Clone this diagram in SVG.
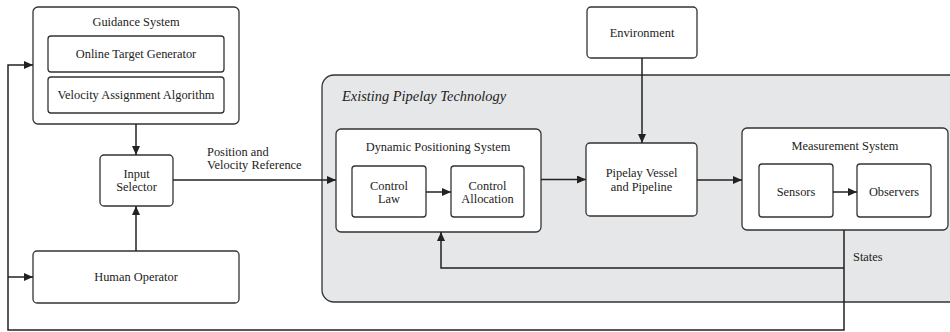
<svg xmlns="http://www.w3.org/2000/svg" width="950" height="332" viewBox="0 0 950 332">
  <style>
    .box { fill: #ffffff; stroke: #333333; stroke-width: 1.3; }
    .region { fill: #e6e7e9; stroke: #333333; stroke-width: 1.3; }
    text { font-family: "Liberation Serif", Tinos, "Times New Roman", "DejaVu Serif", serif; font-size: 12.4px; fill: #222222; }
    .lbl { text-anchor: middle; }
    .title { font-size: 14.4px; font-style: italic; }
    .wire { fill: none; stroke: #222222; stroke-width: 1.5; }
  </style>
  <defs>
    <marker id="arrow" markerUnits="userSpaceOnUse" markerWidth="10" markerHeight="8" refX="9" refY="4" orient="auto">
      <path d="M0,0 L9,4 L0,8 Z" fill="#222222"/>
    </marker>
  </defs>

  <rect width="950" height="332" fill="#ffffff"/>

  <!-- Pipelay technology region (extends past right edge) -->
  <g id="existing-pipelay">
    <rect class="region" x="322" y="75" width="640" height="227" rx="12"/>
    <text class="title" x="342" y="101">Existing Pipelay Technology</text>
  </g>

  <g id="guidance-system">
    <rect class="box" x="33" y="7" width="206" height="117" rx="5"/>
    <text class="lbl" x="136" y="26">Guidance System</text>
    <g id="online-target-generator">
      <rect class="box" x="48" y="36" width="176" height="36" rx="3"/>
      <text class="lbl" x="136" y="58">Online Target Generator</text>
    </g>
    <g id="velocity-assignment">
      <rect class="box" x="48" y="77" width="176" height="36" rx="3"/>
      <text class="lbl" x="136" y="99">Velocity Assignment Algorithm</text>
    </g>
  </g>

  <g id="input-selector">
    <rect class="box" x="100" y="155" width="73" height="51" rx="4"/>
    <text class="lbl" x="136.5" y="178">Input</text>
    <text class="lbl" x="136.5" y="191">Selector</text>
  </g>

  <g id="human-operator">
    <rect class="box" x="33" y="251" width="206" height="52" rx="4"/>
    <text class="lbl" x="136" y="281">Human Operator</text>
  </g>

  <g id="environment">
    <rect class="box" x="587" y="7" width="110" height="51" rx="4"/>
    <text class="lbl" x="642" y="37">Environment</text>
  </g>

  <g id="dynamic-positioning">
    <rect class="box" x="336" y="129" width="205" height="103" rx="5"/>
    <text class="lbl" x="438" y="151">Dynamic Positioning System</text>
    <g id="control-law">
      <rect class="box" x="352" y="166" width="74" height="51" rx="3"/>
      <text class="lbl" x="389" y="190">Control</text>
      <text class="lbl" x="389" y="203">Law</text>
    </g>
    <g id="control-allocation">
      <rect class="box" x="451" y="166" width="73" height="51" rx="3"/>
      <text class="lbl" x="487.5" y="190">Control</text>
      <text class="lbl" x="487.5" y="203">Allocation</text>
    </g>
  </g>

  <g id="pipelay-vessel">
    <rect class="box" x="586" y="143" width="111" height="73" rx="4"/>
    <text class="lbl" x="641.5" y="177">Pipelay Vessel</text>
    <text class="lbl" x="641.5" y="191">and Pipeline</text>
  </g>

  <g id="measurement-system">
    <rect class="box" x="742" y="128" width="206" height="102" rx="5"/>
    <text class="lbl" x="845" y="150">Measurement System</text>
    <g id="sensors">
      <rect class="box" x="759" y="164" width="74" height="53" rx="3"/>
      <text class="lbl" x="796" y="196">Sensors</text>
    </g>
    <g id="observers">
      <rect class="box" x="857" y="164" width="74" height="53" rx="3"/>
      <text class="lbl" x="894" y="196">Observers</text>
    </g>
  </g>

  <g id="connectors">
    <path class="wire" d="M136,124 V155" marker-end="url(#arrow)"/>
    <path class="wire" d="M136,251 V206" marker-end="url(#arrow)"/>
    <path class="wire" d="M173,180 H336" marker-end="url(#arrow)"/>
    <path class="wire" d="M426,192 H451" marker-end="url(#arrow)"/>
    <path class="wire" d="M541,179.5 H586" marker-end="url(#arrow)"/>
    <path class="wire" d="M642,58 V143" marker-end="url(#arrow)"/>
    <path class="wire" d="M697,180 H742" marker-end="url(#arrow)"/>
    <path class="wire" d="M833,192 H857" marker-end="url(#arrow)"/>
    <!-- state feedback -->
    <path class="wire" d="M844,230 V330 H8 V65 H33" marker-end="url(#arrow)"/>
    <path class="wire" d="M8,277 H33" marker-end="url(#arrow)"/>
    <path class="wire" d="M844,268 H441 V232" marker-end="url(#arrow)"/>
    <text x="207" y="156">Position and</text>
    <text x="207" y="169">Velocity Reference</text>
    <text x="853" y="261">States</text>
  </g>
</svg>
